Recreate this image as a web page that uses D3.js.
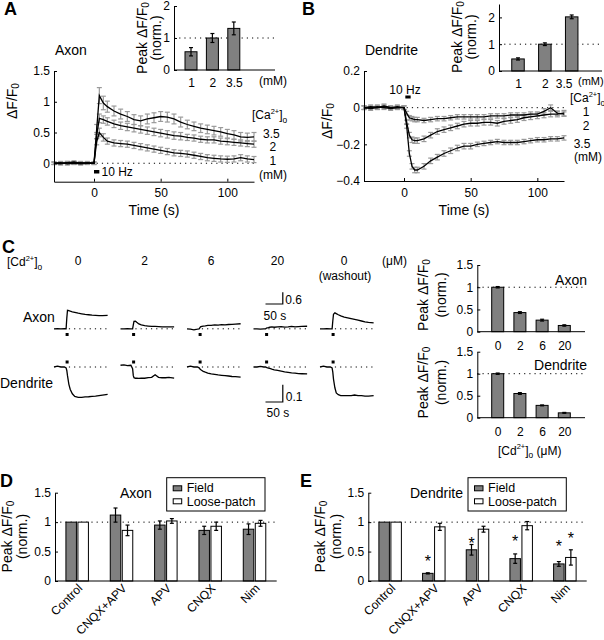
<!DOCTYPE html>
<html><head><meta charset="utf-8">
<script src="https://cdn.jsdelivr.net/npm/d3@7"></script>
<style>
body{margin:0;background:#fff;}
svg{font-family:"Liberation Sans",Arial,Helvetica,sans-serif;}
</style></head><body>
<script>
// ---------------- DATA ----------------
// Panel A (axon) time courses
const tA = [-30,-25,-20,-15,-10,-5,0,2,4,7,10,15,20,25,30,35,40,45,50,55,60,65,70,75,80,85,90,95,100,105,110,115,120];
const axonCa35 = [0.00,-0.01,0.01,0.02,0.00,0.01,0.00, 0.55,1.10,0.98, 0.92,0.85,0.80,0.76,0.71,0.69,0.72,0.74,0.76,0.75,0.72,0.67,0.63,0.60,0.57,0.55,0.53,0.51,0.48,0.46,0.43,0.42,0.43];
const axonCa35Err = [0.02,0.02,0.02,0.02,0.02,0.02,0.02, 0.08,0.13,0.11, 0.09,0.08,0.08,0.08,0.08,0.08,0.08,0.08,0.08,0.08,0.08,0.08,0.07,0.07,0.07,0.07,0.07,0.07,0.07,0.07,0.07,0.07,0.07];
const axonCa2 = [0.00,0.01,-0.01,0.00,0.01,0.00,0.00, 0.45,0.73,0.71, 0.68,0.64,0.61,0.59,0.57,0.55,0.53,0.51,0.49,0.47,0.45,0.44,0.42,0.41,0.39,0.38,0.38,0.36,0.35,0.34,0.33,0.32,0.31];
const axonCa2Err = [0.02,0.02,0.02,0.02,0.02,0.02,0.02, 0.05,0.07,0.06, 0.06,0.06,0.06,0.06,0.06,0.06,0.06,0.06,0.06,0.06,0.06,0.06,0.05,0.05,0.05,0.05,0.05,0.05,0.05,0.05,0.05,0.05,0.05];
const axonCa1 = [0.00,0.00,0.01,0.00,-0.01,0.00,0.00, 0.35,0.50,0.42, 0.36,0.33,0.32,0.31,0.29,0.27,0.25,0.23,0.21,0.19,0.17,0.16,0.15,0.13,0.11,0.09,0.08,0.07,0.065,0.07,0.09,0.07,0.06];
const axonCa1Err = [0.02,0.02,0.02,0.02,0.02,0.02,0.02, 0.05,0.07,0.06, 0.05,0.05,0.05,0.05,0.05,0.05,0.05,0.05,0.05,0.05,0.05,0.05,0.05,0.05,0.05,0.05,0.05,0.05,0.05,0.05,0.05,0.05,0.05];
// Panel B (dendrite) time courses
const tB = [-30,-25,-20,-15,-10,-5,0,2,4,6,8,10,15,20,25,30,35,40,45,50,55,60,65,70,75,80,85,90,95,100,105,110,115,120];
const dendCa1 = [0.00,0.005,0.00,0.01,0.00,0.005,0.00, -0.03,-0.055,-0.06,-0.065, -0.065,-0.07,-0.065,-0.06,-0.06,-0.055,-0.05,-0.05,-0.05,-0.05,-0.05,-0.045,-0.045,-0.045,-0.04,-0.04,-0.04,-0.035,-0.035,-0.02,0.00,-0.03,-0.035];
const dendCa2 = [0.00,-0.005,0.00,0.005,0.00,0.00,0.00, -0.08,-0.15,-0.175,-0.18, -0.18,-0.17,-0.15,-0.13,-0.12,-0.11,-0.10,-0.09,-0.085,-0.085,-0.08,-0.08,-0.085,-0.075,-0.07,-0.065,-0.055,-0.05,-0.045,-0.04,-0.035,-0.035,-0.03];
const dendCa35 = [0.00,0.00,0.005,0.00,-0.005,0.00,0.00, -0.10,-0.25,-0.32,-0.34, -0.34,-0.32,-0.29,-0.27,-0.25,-0.235,-0.22,-0.21,-0.21,-0.20,-0.195,-0.19,-0.185,-0.19,-0.19,-0.19,-0.185,-0.18,-0.175,-0.175,-0.17,-0.17,-0.165];
const dendCa1Err = [0.01,0.01,0.01,0.01,0.01,0.01,0.01, 0.01,0.012,0.012,0.012, 0.012,0.012,0.012,0.012,0.012,0.012,0.012,0.012,0.012,0.012,0.012,0.012,0.012,0.012,0.012,0.012,0.012,0.012,0.012,0.015,0.015,0.012,0.012];
const dendCa2Err = [0.01,0.01,0.01,0.01,0.01,0.01,0.01, 0.012,0.015,0.015,0.015, 0.015,0.015,0.015,0.015,0.015,0.015,0.015,0.015,0.015,0.015,0.015,0.015,0.015,0.015,0.015,0.015,0.015,0.015,0.015,0.015,0.015,0.015,0.015];
const dendCa35Err = [0.01,0.01,0.01,0.01,0.01,0.01,0.01, 0.012,0.015,0.015,0.015, 0.015,0.015,0.015,0.015,0.015,0.015,0.015,0.015,0.015,0.012,0.012,0.012,0.012,0.012,0.012,0.012,0.012,0.012,0.012,0.012,0.012,0.012,0.012];
// Insets: peak vs [Ca2+]o
const caCats = ["1","2","3.5"];
const caAxonPeak = [0.57,1.00,1.30];
const caAxonPeakErr = [0.13,0.14,0.20];
const caDendPeak = [0.45,1.00,2.02];
const caDendPeakErr = [0.04,0.05,0.07];
// Panel C: example traces under [Cd2+]o
const cdCols = ["0","2","6","20","0"];
const cT = [-35,-25,-15,-5,0,2,4,8,12,18,25,35,45,55,65,75,85,95,105,120];
const cdAxonTraces = [
  [0,0.01,0,0.01,0, 0.55,0.95,0.93,0.90,0.87,0.84,0.80,0.77,0.74,0.72,0.70,0.69,0.68,0.68,0.69],
  [0,0,0.01,0,0, 0.20,0.38,0.39,0.33,0.25,0.20,0.16,0.14,0.12,0.12,0.11,0.10,0.10,0.10,0.10],
  [0,-0.02,-0.05,-0.02,0, 0.05,0.10,0.12,0.14,0.15,0.18,0.18,0.20,0.19,0.21,0.20,0.22,0.23,0.24,0.26],
  [0,0,-0.02,0,0, 0.03,0.05,0.06,0.08,0.10,0.08,0.10,0.11,0.09,0.10,0.12,0.10,0.11,0.12,0.13],
  [0,0,0.01,0,0, 0.40,0.75,0.82,0.78,0.72,0.66,0.60,0.56,0.52,0.48,0.44,0.40,0.36,0.33,0.30]
];
const cdDendTraces = [
  [0,0.005,0,0,-0.005, -0.02,-0.05,-0.10,-0.13,-0.155,-0.17,-0.175,-0.175,-0.173,-0.172,-0.17,-0.168,-0.165,-0.162,-0.158],
  [0.01,0.012,0.008,0.01,-0.01, -0.05,-0.062,-0.065,-0.064,-0.066,-0.064,-0.065,-0.062,-0.06,-0.045,-0.06,-0.062,-0.062,-0.06,-0.064],
  [0,0.005,0,0,-0.005, -0.01,-0.015,-0.02,-0.025,-0.03,-0.035,-0.04,-0.043,-0.046,-0.048,-0.05,-0.052,-0.055,-0.056,-0.058],
  [0,0,0.003,0,0, -0.002,-0.004,-0.006,-0.008,-0.012,-0.016,-0.02,-0.024,-0.028,-0.031,-0.034,-0.036,-0.038,-0.039,-0.04],
  [0,0.005,0,0,-0.005, -0.03,-0.07,-0.12,-0.15,-0.16,-0.165,-0.166,-0.166,-0.165,-0.162,-0.165,-0.166,-0.168,-0.168,-0.165]
];
// Panel C bars: peak vs [Cd2+]o
const cdCats = ["0","2","6","20"];
const cdAxonPeak = [1.00,0.43,0.26,0.14];
const cdAxonPeakErr = [0.015,0.02,0.02,0.015];
const cdDendPeak = [1.00,0.55,0.28,0.11];
const cdDendPeakErr = [0.015,0.02,0.01,0.01];
// Panels D, E: pharmacology
const treatCats = ["Control","CNQX+APV","APV","CNQX","Nim"];
const axonField = [1,1.12,0.95,0.86,0.88];
const axonFieldErr = [0,0.12,0.07,0.07,0.09];
const axonLoose = [1,0.86,1.02,0.93,0.98];
const axonLooseErr = [0,0.09,0.04,0.07,0.05];
const dendField = [1,0.13,0.53,0.38,0.29];
const dendFieldErr = [0,0.01,0.09,0.08,0.04];
const dendLoose = [1,0.92,0.88,0.94,0.40];
const dendLooseErr = [0,0.06,0.05,0.07,0.13];
const dendFieldStar = [null,0.39,0.70,0.735,0.645];
const dendLooseStar = [null,null,null,null,0.78];

// ---------------- DRAWING ----------------
const svg = d3.select('body').append('svg').attr('width',604).attr('height',640);
svg.append('rect').attr('width',604).attr('height',640).attr('fill','#fff');
const GRAY = '#808080';
const fmt = d => d<0 ? '\u2212'+Math.abs(d) : String(d);

function txt(x,y,s,size,anchor,bold){
  const t = svg.append('text').attr('x',x).attr('y',y).attr('font-size',size||12)
    .attr('text-anchor',anchor||'start').attr('fill','#000').text(s);
  if(bold) t.attr('font-weight','bold');
  return t;
}
function styleAxis(g){
  g.attr('font-family',null).attr('font-size',12);
  g.selectAll('text').attr('fill','#000');
  g.selectAll('path,line').attr('stroke','#000');
}
function yAxis(scale,x,ticks){
  const g = svg.append('g').attr('transform',`translate(${x},0)`)
    .call(d3.axisLeft(scale).tickValues(ticks).tickFormat(fmt).tickSizeInner(-3).tickSizeOuter(0).tickPadding(4));
  styleAxis(g); return g;
}
function xAxisLin(scale,y,ticks){
  const g = svg.append('g').attr('transform',`translate(0,${y})`)
    .call(d3.axisBottom(scale).tickValues(ticks).tickFormat(fmt).tickSizeInner(-3).tickSizeOuter(0).tickPadding(7));
  styleAxis(g); return g;
}
function xAxisCat(scale,y,pad,showText,x0,x1){
  const g = svg.append('g').attr('transform',`translate(0,${y})`)
    .call(d3.axisBottom(scale).tickSize(0).tickPadding(pad));
  styleAxis(g);
  g.select('.domain').remove();
  if(!showText) g.selectAll('text').remove();
  g.append('line').attr('x1',x0).attr('x2',x1).attr('y1',0).attr('y2',0).attr('stroke','#000');
  return g;
}
function dfLabel(x,y,prefix,size){
  const t = svg.append('text').attr('transform',`translate(${x},${y}) rotate(-90)`)
    .attr('text-anchor','middle').attr('dy','0.35em').attr('font-size',size).attr('fill','#000');
  t.append('tspan').text(prefix+'\u0394F/F');
  t.append('tspan').attr('font-size',size*0.72).attr('dy','0.2em').text('0');
}
function normLabel(x,y,size){
  svg.append('text').attr('transform',`translate(${x},${y}) rotate(-90)`)
    .attr('text-anchor','middle').attr('dy','0.35em').attr('font-size',size).attr('fill','#000').text('(norm.)');
}
function ionLabel(x,y,ion,size,suffix,anchor){
  const t = svg.append('text').attr('x',x).attr('y',y).attr('font-size',size).attr('fill','#000').attr('text-anchor',anchor||'start');
  t.append('tspan').text('['+ion);
  t.append('tspan').attr('font-size',size*0.62).attr('dy',-size*0.42).text('2+');
  t.append('tspan').attr('dy',size*0.42).text(']');
  t.append('tspan').attr('font-size',size*0.7).attr('dy',size*0.3).text('o');
  if(suffix) t.append('tspan').attr('dy',-size*0.3).text(suffix);
  return t;
}
function dotted(x1,x2,y){
  svg.append('line').attr('x1',x1).attr('x2',x2).attr('y1',y).attr('y2',y)
    .attr('stroke','#000').attr('stroke-width',1).attr('stroke-dasharray','1.2,4');
}
function errBar(g,x,yLo,yHi,cap,color,w){
  g.append('line').attr('x1',x).attr('x2',x).attr('y1',yLo).attr('y2',yHi).attr('stroke',color).attr('stroke-width',w);
  g.append('line').attr('x1',x-cap).attr('x2',x+cap).attr('y1',yLo).attr('y2',yLo).attr('stroke',color).attr('stroke-width',w);
  g.append('line').attr('x1',x-cap).attr('x2',x+cap).attr('y1',yHi).attr('y2',yHi).attr('stroke',color).attr('stroke-width',w);
}
function tracePanel(xs,ys,t,list){
  const g = svg.append('g');
  list.forEach(s=>{
    t.forEach((ti,i)=>{ errBar(g,xs(ti),ys(s.v[i]-s.e[i]),ys(s.v[i]+s.e[i]),2.5,'#9a9a9a',1.2); });
  });
  const line = d3.line().x(d=>xs(d[0])).y(d=>ys(d[1]));
  list.forEach(s=>{
    g.append('path').datum(t.map((ti,i)=>[ti,s.v[i]])).attr('d',line)
      .attr('fill','none').attr('stroke','#000').attr('stroke-width',1.3);
  });
}
function barSet(xs,ys,cats,vals,errs,width,fill,offset){
  const g = svg.append('g');
  cats.forEach((c,i)=>{
    const cx = xs(c)+(offset||0);
    g.append('rect').attr('x',cx-width/2).attr('y',ys(vals[i])).attr('width',width)
      .attr('height',ys(0)-ys(vals[i])).attr('fill',fill).attr('stroke','#000').attr('stroke-width',1);
    if(errs[i]>0) errBar(g,cx,ys(vals[i]-errs[i]),ys(vals[i]+errs[i]),2,'#000',1.2);
  });
}

// ===== Panel A =====
txt(4,15,'A',18,'start',true);
txt(55,55,'Axon',14);
{
  const xs = d3.scaleLinear([-30,120],[54,254]);
  const ys = d3.scaleLinear([-0.3,1.5],[181.7,71]);
  dotted(xs(2),xs(120),ys(0));
  tracePanel(xs,ys,tA,[{v:axonCa1,e:axonCa1Err},{v:axonCa2,e:axonCa2Err},{v:axonCa35,e:axonCa35Err}]);
  yAxis(ys,54,[0,0.5,1,1.5]);
  xAxisLin(xs,181.7,[0,50,100]);
  svg.append('rect').attr('x',xs(0)).attr('y',170).attr('width',xs(4)-xs(0)).attr('height',3.5).attr('fill','#000');
  txt(101.5,176,'10 Hz',12);
  txt(154,215,'Time (s)',14,'middle');
  dfLabel(12,101,'',14);
  ionLabel(252,119,'Ca',12);
  txt(263,138,'3.5',12); txt(269.5,151,'2',12); txt(269.5,164.5,'1',12); txt(259,178.5,'(mM)',12);
  // inset
  const xi = d3.scalePoint(caCats,[191,233.8]);
  const yi = d3.scaleLinear([0,2],[70,6]);
  dotted(174,275,yi(1));
  barSet(xi,yi,caCats,caAxonPeak,caAxonPeakErr,12,GRAY);
  yAxis(yi,174,[0,1,2]);
  xAxisCat(xi,70,8,true,174,275);
  txt(259,85,'(mM)',12);
  dfLabel(142.5,38,'Peak ',14);
  normLabel(156,38,14);
}

// ===== Panel B =====
txt(302,15,'B',18,'start',true);
txt(365,55,'Dendrite',14);
{
  const xs = d3.scaleLinear([-30,120],[364,564]);
  const ys = d3.scaleLinear([-0.4,0.2],[181,71]);
  dotted(xs(2),xs(120),ys(0));
  tracePanel(xs,ys,tB,[{v:dendCa1,e:dendCa1Err},{v:dendCa2,e:dendCa2Err},{v:dendCa35,e:dendCa35Err}]);
  yAxis(ys,364,[-0.4,-0.2,0,0.2]);
  xAxisLin(xs,181,[0,50,100]);
  svg.append('rect').attr('x',xs(1)).attr('y',95.5).attr('width',xs(5)-xs(1)).attr('height',3).attr('fill','#000');
  txt(405,94,'10 Hz',12,'middle');
  txt(464,215,'Time (s)',14,'middle');
  dfLabel(327,121,'',14);
  ionLabel(570,102,'Ca',12);
  txt(586,116,'1',12,'middle'); txt(586,130,'2',12,'middle'); txt(582,147.5,'3.5',12,'middle'); txt(588,161,'(mM)',12,'middle');
  // inset
  const xi = d3.scalePoint(caCats,[518,571.7]);
  const yi = d3.scaleLinear([0,2.5],[71,4]);
  dotted(499,602,yi(1));
  barSet(xi,yi,caCats,caDendPeak,caDendPeakErr,12.5,GRAY);
  yAxis(yi,499,[0,1,2]);
  const gx = xAxisCat(xi,71,8,true,499,602);
  gx.selectAll('.tick').filter(d=>d==='3.5').select('text').attr('dx',-8);
  txt(578,85,'(mM)',11);
  dfLabel(457.5,37,'Peak ',14);
  normLabel(471,37,14);
}

// ===== Panel C =====
txt(2,253,'C',18,'start',true);
ionLabel(7,266,'Cd',12);
{
  const pxPerSec = 17.3/50, axonScale = 11.7/0.6, dendScale = 17.3/0.1;
  const axonBase = 328.8, dendBase = 367;
  cdCols.forEach((lab,i)=>{
    const x0 = 54 + i*66.5;
    const xs = d3.scaleLinear([-35,120],[x0, x0 + 155*pxPerSec]);
    const ya = d3.scaleLinear([0,1],[axonBase, axonBase-axonScale]);
    const yd = d3.scaleLinear([0,1],[dendBase, dendBase-dendScale]);
    txt(x0+24,265,lab,12,'middle');
    dotted(xs(8),xs(120),axonBase);
    dotted(xs(8),xs(120),dendBase);
    const line = d3.line().x(d=>xs(d[0]));
    svg.append('path').datum(cT.map((t,j)=>[t,cdAxonTraces[i][j]])).attr('d',line.y(d=>ya(d[1])))
      .attr('fill','none').attr('stroke','#000').attr('stroke-width',1.3);
    svg.append('path').datum(cT.map((t,j)=>[t,cdDendTraces[i][j]])).attr('d',line.y(d=>yd(d[1])))
      .attr('fill','none').attr('stroke','#000').attr('stroke-width',1.3);
    svg.append('rect').attr('x',xs(0)-0.5).attr('y',333).attr('width',3).attr('height',3).attr('fill','#000');
    svg.append('rect').attr('x',xs(0)-0.5).attr('y',360.5).attr('width',3).attr('height',3).attr('fill','#000');
    if(i===3){
      const sx = xs(-35)+12;
      svg.append('path').attr('d',`M${sx},304H${sx+50*pxPerSec}V${304-0.6*axonScale}`).attr('fill','none').attr('stroke','#000').attr('stroke-width',1.2);
      txt(sx+50*pxPerSec+2.5,304,'0.6',12);
      txt(sx-2,319.5,'50 s',12);
      svg.append('path').attr('d',`M${sx},402H${sx+50*pxPerSec}V${402-0.1*dendScale}`).attr('fill','none').attr('stroke','#000').attr('stroke-width',1.2);
      txt(sx+50*pxPerSec+3,401,'0.1',12);
      txt(sx+1,417,'50 s',12);
    }
  });
  txt(345,279.5,'(washout)',12,'middle');
  txt(382,265,'(\u03bcM)',12);
  txt(23,321.5,'Axon',14);
  txt(0,387.5,'Dendrite',14);

  const xb = d3.scalePoint(cdCats,[497.7,564.3]);
  const yTop = d3.scaleLinear([0,1.5],[331.7,265]);
  dotted(477.3,585,yTop(1));
  barSet(xb,yTop,cdCats,cdAxonPeak,cdAxonPeakErr,12,GRAY);
  yAxis(yTop,477.3,[0,0.5,1,1.5]);
  xAxisCat(xb,331.7,10,true,477.3,585);
  txt(587,285,'Axon',14,'end');
  dfLabel(423,295,'Peak ',14);
  normLabel(441,295,14);

  const yBot = d3.scaleLinear([0,1.5],[417.7,351.7]);
  dotted(477.3,585,yBot(1));
  barSet(xb,yBot,cdCats,cdDendPeak,cdDendPeakErr,12,GRAY);
  yAxis(yBot,477.3,[0,0.5,1,1.5]);
  xAxisCat(xb,417.7,10,true,477.3,585);
  txt(587,370,'Dendrite',14,'end');
  dfLabel(423,382.5,'Peak ',14);
  normLabel(441,382.5,14);
  ionLabel(498,454.5,'Cd',12,'  (\u03bcM)');
}

// ===== Panels D and E =====
function pharmPanel(letter,lx,title,titleX,x0,x1,field,fieldErr,loose,looseErr,legX,stars){
  txt(lx,487,letter,18,'start',true);
  const xs = d3.scaleBand(treatCats,[x0,x1]);
  const ys = d3.scaleLinear([0,1.5],[581,492.7]);
  const xc = c => xs(c)+xs.bandwidth()/2;
  const xcs = d3.scaleOrdinal(treatCats, treatCats.map(xc));
  dotted(x0,x1,ys(1));
  barSet(xcs,ys,treatCats,field,fieldErr,10.5,GRAY,-6);
  barSet(xcs,ys,treatCats,loose,looseErr,10.5,'#fff',6);
  yAxis(ys,x0,[0,0.5,1,1.5]);
  svg.append('line').attr('x1',x0).attr('x2',x1).attr('y1',581).attr('y2',581).attr('stroke','#000');
  treatCats.forEach(c=>{
    svg.append('text').attr('transform',`translate(${xc(c)+3},${586}) rotate(-45)`)
      .attr('text-anchor','end').attr('dy','0.35em').attr('font-size',12).attr('fill','#000').text(c);
  });
  txt(titleX,498,title,14);
  svg.append('rect').attr('x',legX).attr('y',477.7).attr('width',98.3).attr('height',33.3).attr('fill','#fff').attr('stroke','#000').attr('stroke-width',1);
  svg.append('rect').attr('x',legX+6.5).attr('y',485.8).attr('width',8.5).attr('height',5).attr('fill',GRAY).attr('stroke','#000').attr('stroke-width',1);
  svg.append('rect').attr('x',legX+6.5).attr('y',498.8).attr('width',8.5).attr('height',5).attr('fill','#fff').attr('stroke','#000').attr('stroke-width',1);
  txt(legX+20,492.3,'Field',12.5);
  txt(legX+20,505.8,'Loose-patch',12.5);
  dfLabel(x0-48,536.5,'Peak ',14);
  normLabel(x0-32.5,536.5,14);
  if(stars){
    stars.field.forEach((s,i)=>{ if(s!==null) txt(xc(treatCats[i])-6,ys(s)+9,'*',16,'middle'); });
    stars.loose.forEach((s,i)=>{ if(s!==null) txt(xc(treatCats[i])+6,ys(s)+9,'*',16,'middle'); });
  }
}
pharmPanel('D',0,'Axon',120,55,276.7,axonField,axonFieldErr,axonLoose,axonLooseErr,166.7,null);
pharmPanel('E',300,'Dendrite',410,368.3,586.7,dendField,dendFieldErr,dendLoose,dendLooseErr,468,{field:dendFieldStar,loose:dendLooseStar});
</script>
</body></html>
